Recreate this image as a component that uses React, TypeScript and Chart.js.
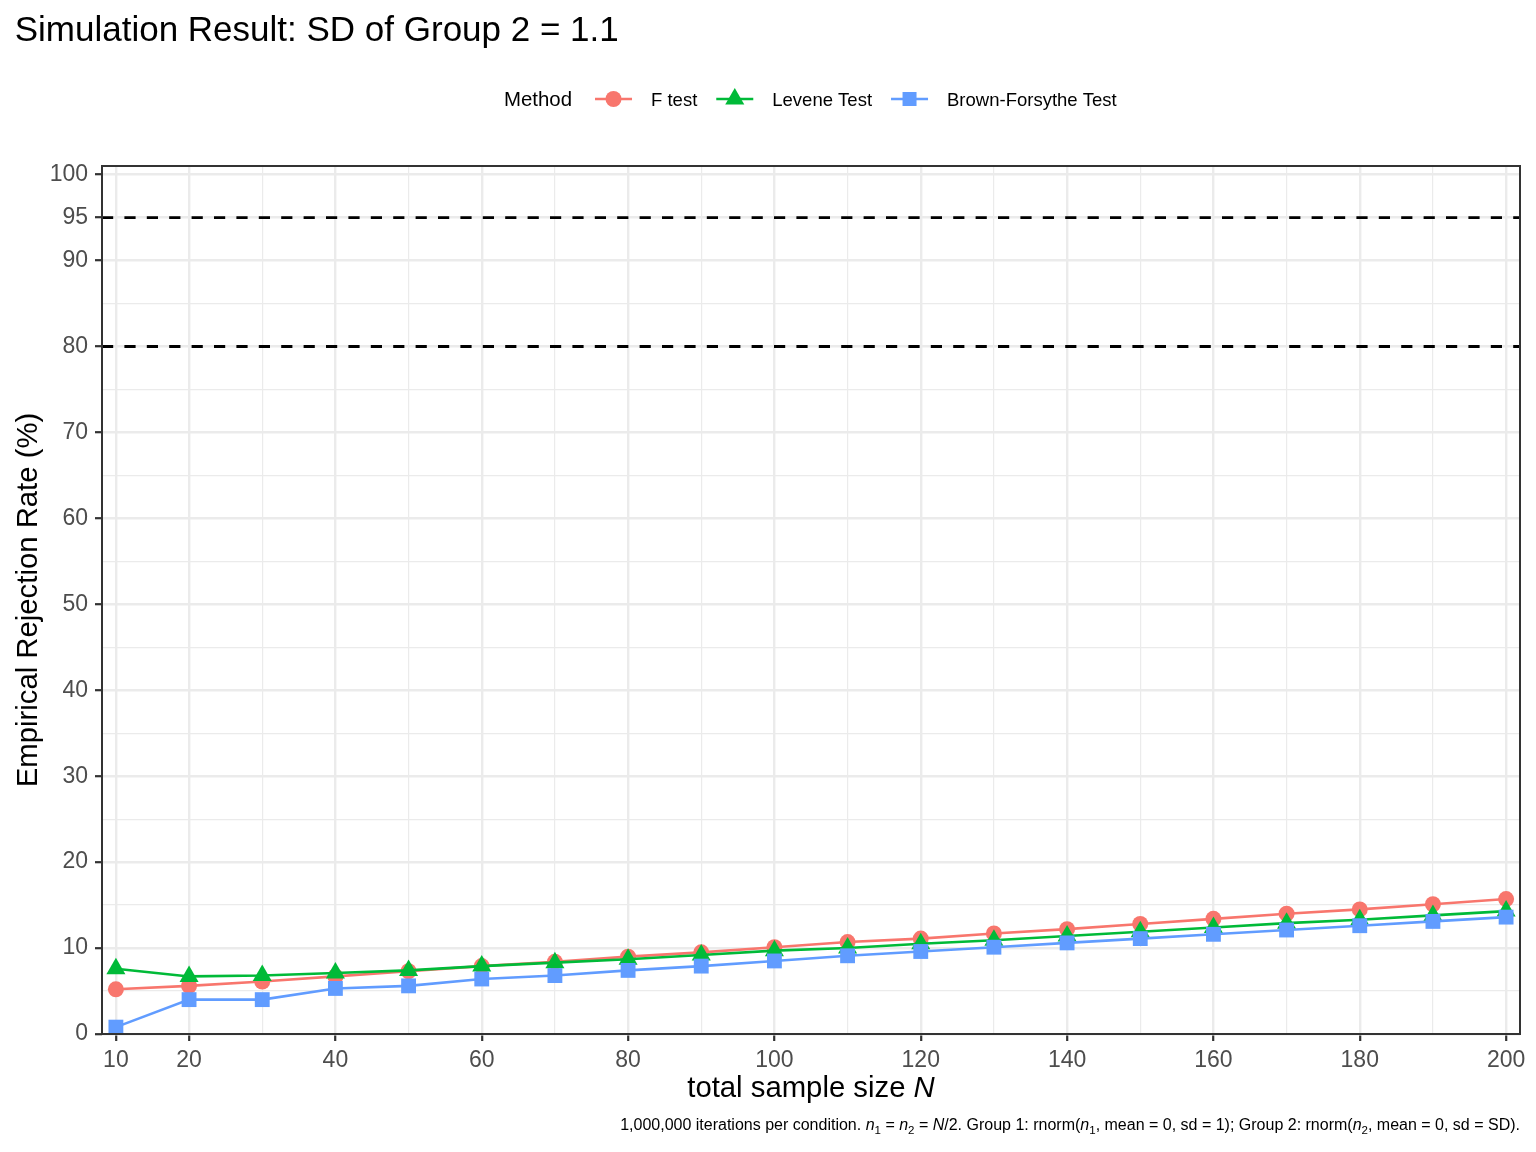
import { useEffect, useRef } from "react";
import { Chart, registerables } from "chart.js";

Chart.register(...registerables);

const FONT = '"Liberation Sans", Arial, Helvetica, sans-serif';

const TITLE = "Simulation Result: SD of Group 2 = 1.1";
const Y_TITLE = "Empirical Rejection Rate (%)";

// total sample size N
const sampleSizes = [10, 20, 30, 40, 50, 60, 70, 80, 90, 100, 110, 120, 130, 140, 150, 160, 170, 180, 190, 200];

// rejection rates (%)
const fTest = [5.2, 5.6, 6.1, 6.7, 7.3, 7.9, 8.4, 9.0, 9.5, 10.1, 10.7, 11.1, 11.7, 12.2, 12.8, 13.4, 14.0, 14.5, 15.1, 15.7];
const leveneTest = [7.6, 6.7, 6.8, 7.1, 7.4, 7.9, 8.3, 8.7, 9.2, 9.7, 10.0, 10.5, 10.9, 11.4, 11.9, 12.4, 12.9, 13.3, 13.8, 14.3];
const brownForsythe = [0.8, 4.0, 4.0, 5.3, 5.6, 6.4, 6.8, 7.4, 7.9, 8.5, 9.1, 9.6, 10.1, 10.6, 11.1, 11.6, 12.1, 12.6, 13.1, 13.6];

const methods = ["F test", "Levene Test", "Brown-Forsythe Test"];
const colors = ["#F8766D", "#00BA38", "#619CFF"];
const shapes = ["circle", "triangle", "rect"];

// reference lines (power targets)
const refLines = [80, 95];

// axis breaks
const xMajor = [10, 20, 40, 60, 80, 100, 120, 140, 160, 180, 200];
const xMinor = [30, 50, 70, 90, 110, 130, 150, 170, 190];
const yMajor = [0, 10, 20, 30, 40, 50, 60, 70, 80, 90, 95, 100];
const yMinor = [5, 15, 25, 35, 45, 55, 65, 75, 85];

const X_MIN = 8.1;
const X_MAX = 201.9;
const Y_MIN = 0;
const Y_MAX = 101;

type Seg = { t: string; it?: boolean; sub?: boolean };

function segFont(s: Seg, size: number) {
  const sz = s.sub ? size * 0.72 : size;
  return `${s.it ? "italic " : ""}${sz}px ${FONT}`;
}

function drawRich(ctx: CanvasRenderingContext2D, segs: Seg[], x: number, y: number, size: number, align: "left" | "right" | "center") {
  ctx.textAlign = "left";
  ctx.textBaseline = "alphabetic";
  const widths = segs.map((s) => {
    ctx.font = segFont(s, size);
    return ctx.measureText(s.t).width;
  });
  const total = widths.reduce((a, b) => a + b, 0);
  let cx = align === "left" ? x : align === "right" ? x - total : x - total / 2;
  segs.forEach((s, i) => {
    ctx.font = segFont(s, size);
    ctx.fillText(s.t, cx, s.sub ? y + size * 0.28 : y);
    cx += widths[i];
  });
}

function drawMarker(ctx: CanvasRenderingContext2D, shape: string, x: number, y: number, color: string) {
  ctx.fillStyle = color;
  ctx.beginPath();
  if (shape === "circle") {
    ctx.arc(x, y, 8, 0, Math.PI * 2);
  } else if (shape === "triangle") {
    const r = 11;
    ctx.moveTo(x, y - r);
    ctx.lineTo(x + r * 0.866, y + r / 2);
    ctx.lineTo(x - r * 0.866, y + r / 2);
    ctx.closePath();
  } else {
    ctx.rect(x - 7, y - 7, 14, 14);
  }
  ctx.fill();
}

const decorations = {
  id: "decorations",
  afterDraw(chart: Chart) {
    const { ctx, chartArea: a } = chart;
    ctx.save();

    // panel border
    ctx.strokeStyle = "#333333";
    ctx.lineWidth = 2;
    ctx.strokeRect(a.left, a.top, a.right - a.left, a.bottom - a.top);

    ctx.fillStyle = "#000000";

    // plot title
    ctx.font = `35px ${FONT}`;
    ctx.textAlign = "left";
    ctx.textBaseline = "alphabetic";
    ctx.fillText(TITLE, 14.7, 41);

    // legend
    const ly = 99;
    const base = ly + 6.6;
    let lx = 504;
    ctx.font = `20.4px ${FONT}`;
    ctx.fillStyle = "#000000";
    ctx.fillText("Method", lx, base);
    lx += ctx.measureText("Method").width + 23;
    methods.forEach((m, i) => {
      ctx.strokeStyle = colors[i];
      ctx.lineWidth = 2.6;
      ctx.beginPath();
      ctx.moveTo(lx, ly);
      ctx.lineTo(lx + 37, ly);
      ctx.stroke();
      drawMarker(ctx, shapes[i], lx + 18.5, ly, colors[i]);
      lx += 37 + 19;
      ctx.font = `18.5px ${FONT}`;
      ctx.fillStyle = "#000000";
      ctx.fillText(m, lx, base);
      lx += ctx.measureText(m).width + 19;
    });

    // x axis title
    ctx.fillStyle = "#000000";
    drawRich(ctx, [{ t: "total sample size " }, { t: "N", it: true }], (a.left + a.right) / 2, 1097, 29.3, "center");

    // y axis title
    ctx.save();
    ctx.translate(37, (a.top + a.bottom) / 2);
    ctx.rotate(-Math.PI / 2);
    ctx.font = `29.3px ${FONT}`;
    ctx.textAlign = "center";
    ctx.textBaseline = "alphabetic";
    ctx.fillText(Y_TITLE, 0, 0);
    ctx.restore();

    // caption
    const caption: Seg[] = [
      { t: "1,000,000 iterations per condition. " },
      { t: "n", it: true }, { t: "1", sub: true },
      { t: " = " },
      { t: "n", it: true }, { t: "2", sub: true },
      { t: " = " },
      { t: "N", it: true },
      { t: "/2. Group 1: rnorm(" },
      { t: "n", it: true }, { t: "1", sub: true },
      { t: ", mean = 0, sd = 1); Group 2: rnorm(" },
      { t: "n", it: true }, { t: "2", sub: true },
      { t: ", mean = 0, sd = SD)." },
    ];
    ctx.fillStyle = "#000000";
    drawRich(ctx, caption, a.right, 1130, 16, "right");

    ctx.restore();
  },
};

const isIn = (arr: number[], v: number) => arr.some((m) => Math.abs(m - v) < 1e-6);

export default function App() {
  const canvasRef = useRef<HTMLCanvasElement>(null);
  const chartRef = useRef<Chart | null>(null);

  useEffect(() => {
    document.body.style.margin = "0";
    if (!canvasRef.current) return;
    if (chartRef.current) chartRef.current.destroy();

    const series = [fTest, leveneTest, brownForsythe];
    const pointRadii = [8, 11, 10.5];

    const datasets: any[] = series.map((vals, i) => ({
      label: methods[i],
      data: sampleSizes.map((n, j) => ({ x: n, y: vals[j] })),
      borderColor: colors[i],
      backgroundColor: colors[i],
      borderWidth: 2.6,
      pointStyle: shapes[i],
      pointRadius: pointRadii[i],
      pointBorderWidth: 0,
      pointBackgroundColor: colors[i],
      tension: 0,
      order: 3 - i,
    }));

    refLines.forEach((v) => {
      datasets.push({
        label: `ref ${v}`,
        data: [
          { x: X_MIN, y: v },
          { x: X_MAX, y: v },
        ],
        borderColor: "#000000",
        borderWidth: 2.8,
        borderDash: [11.2, 11.2],
        pointRadius: 0,
        order: 10,
      });
    });

    chartRef.current = new Chart(canvasRef.current, {
      type: "line",
      data: { datasets },
      options: {
        responsive: false,
        devicePixelRatio: 1,
        animation: false,
        layout: { padding: { left: 0, top: 166, right: 16, bottom: 0 } },
        plugins: {
          legend: { display: false },
          tooltip: { enabled: false },
        },
        scales: {
          x: {
            type: "linear",
            position: "bottom",
            min: X_MIN,
            max: X_MAX,
            afterBuildTicks: (s: any) => {
              s.ticks = [...xMajor, ...xMinor].sort((p, q) => p - q).map((v) => ({ value: v }));
            },
            afterFit: (s: any) => {
              s.height = 118;
            },
            border: { display: false },
            grid: {
              color: "#EBEBEB",
              lineWidth: (c: any) => (isIn(xMajor, c.tick.value) ? 2.4 : 1.2),
              tickColor: (c: any) => (isIn(xMajor, c.tick.value) ? "#333333" : "rgba(0,0,0,0)"),
              tickLength: 7,
              tickWidth: 2.2,
            },
            ticks: {
              autoSkip: false,
              maxRotation: 0,
              padding: 6,
              color: "#4D4D4D",
              font: { family: FONT, size: 23 },
              callback: (v: any) => (isIn(xMajor, Number(v)) ? String(v) : ""),
            },
          },
          y: {
            type: "linear",
            min: Y_MIN,
            max: Y_MAX,
            afterBuildTicks: (s: any) => {
              s.ticks = [...yMajor, ...yMinor].sort((p, q) => p - q).map((v) => ({ value: v }));
            },
            afterFit: (s: any) => {
              s.width = 102;
            },
            border: { display: false },
            grid: {
              color: "#EBEBEB",
              lineWidth: (c: any) => (isIn(yMajor, c.tick.value) ? 2.4 : 1.2),
              tickColor: (c: any) => (isIn(yMajor, c.tick.value) ? "#333333" : "rgba(0,0,0,0)"),
              tickLength: 7,
              tickWidth: 2.2,
            },
            ticks: {
              autoSkip: false,
              padding: 7,
              color: "#4D4D4D",
              font: { family: FONT, size: 23 },
              callback: (v: any) => (isIn(yMajor, Number(v)) ? String(v) : ""),
            },
          },
        },
      },
      plugins: [decorations],
    });

    return () => {
      if (chartRef.current) {
        chartRef.current.destroy();
        chartRef.current = null;
      }
    };
  }, []);

  return (
    <div style={{ width: 1536, height: 1152, background: "#ffffff" }}>
      <canvas ref={canvasRef} width={1536} height={1152} style={{ display: "block" }} />
    </div>
  );
}
